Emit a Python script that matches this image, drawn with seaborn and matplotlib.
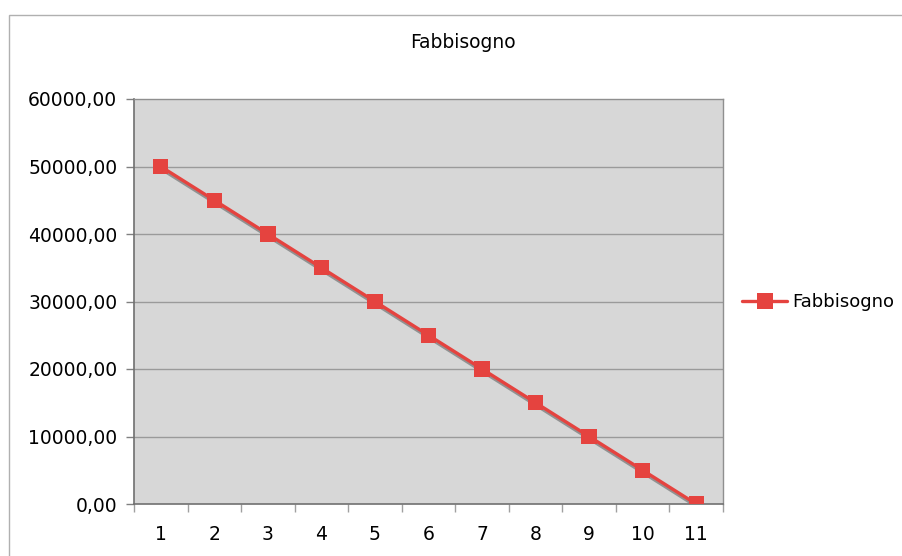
import matplotlib
matplotlib.use("Agg")
import matplotlib.pyplot as plt
import matplotlib.patheffects as pe
from matplotlib.patches import Rectangle
from matplotlib.lines import Line2D
import seaborn as sns
import pandas as pd

periodi = [1, 2, 3, 4, 5, 6, 7, 8, 9, 10, 11]
fabbisogno = [50000, 45000, 40000, 35000, 30000, 25000, 20000, 15000, 10000, 5000, 0]
y_ticks = [0, 10000, 20000, 30000, 40000, 50000, 60000]
serie = "Fabbisogno"

sns.set_theme(style="white")
plt.rcParams["font.family"] = ["DejaVu Sans"]
plt.rcParams["text.color"] = "black"

df = pd.DataFrame({"periodo": periodi, "valore": fabbisogno})

fig = plt.figure(figsize=(9.02, 5.56), dpi=100)
fig.patch.set_facecolor("white")

# chart frame
fig.patches.append(Rectangle((9 / 902, -0.1), 1.0, (556 - 15) / 556 + 0.1,
                             transform=fig.transFigure, fill=False,
                             edgecolor="#b0b0b0", linewidth=1.0))

ax = fig.add_axes([134 / 902, 52 / 556, 589 / 902, 405 / 556])
ax.set_facecolor("#d7d7d7")

red = "#e5433f"
sns.lineplot(data=df, x="periodo", y="valore", ax=ax, color=red,
             linewidth=2.4, marker="s", markersize=11, markeredgewidth=0,
             legend=False, zorder=3)
for ln in ax.get_lines():
    ln.set_path_effects([pe.SimpleLineShadow(offset=(1.5, -2.5),
                                             shadow_color="#7a7a7a", alpha=0.75),
                         pe.Normal()])

ax.set_xlim(0.5, 11.5)
ax.set_ylim(0, 60000)
ax.set_yticks(y_ticks)
ax.set_yticklabels([f"{v:.2f}".replace(".", ",") for v in y_ticks], fontsize=13.5)
ax.set_xticks(periodi)
ax.set_xticklabels([str(p) for p in periodi], fontsize=13.5)
ax.set_xticks([p + 0.5 for p in [0] + periodi], minor=True)

for v in y_ticks[1:-1]:
    ax.axhline(v, color="#9a9a9a", linewidth=1.0, zorder=1)

ax.tick_params(axis="y", which="major", length=6, width=1, color="#808080",
               left=True, pad=6, labelcolor="black")
ax.tick_params(axis="x", which="major", length=0, pad=15, labelcolor="black")
ax.tick_params(axis="x", which="minor", length=6, width=1, color="#a0a0a0",
               bottom=True)

for side in ["left", "bottom"]:
    ax.spines[side].set_color("#707070")
    ax.spines[side].set_linewidth(1.2)
for side in ["top", "right"]:
    ax.spines[side].set_color("#8f8f8f")
    ax.spines[side].set_linewidth(1.0)

ax.set_xlabel("")
ax.set_ylabel("")

fig.text(463 / 902, 1 - 43 / 556, serie, ha="center", va="center",
         fontsize=13.4, color="black")

handle = Line2D([], [], color=red, linewidth=2.4, marker="s", markersize=11,
                markeredgewidth=0)
fig.legend([handle], [serie], loc="center left",
           bbox_to_anchor=(742 / 902, 1 - 302 / 556), frameon=False,
           fontsize=13, handlelength=2.5, handletextpad=0.3,
           borderaxespad=0, borderpad=0, labelcolor="black")

fig.savefig("out.png", dpi=100, facecolor="white")
